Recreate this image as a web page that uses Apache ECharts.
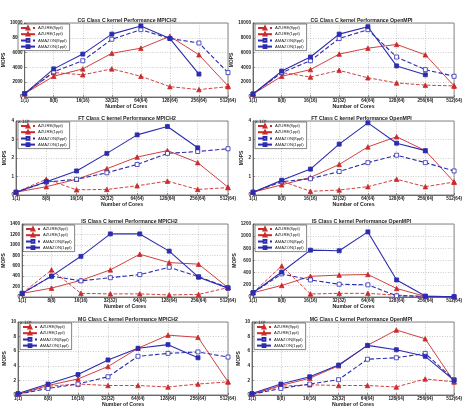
<!DOCTYPE html>
<html>
<head>
<meta charset="utf-8">
<script src="https://cdn.jsdelivr.net/npm/echarts@6/dist/echarts.min.js"></script>
<style>
  html, body { margin: 0; padding: 0; background: #fff; }
  #main { width: 465px; height: 415px; }
</style>
</head>
<body>
<div id="main"></div>
<script>
// x 轴分类
var categories = ['1(1)', '8(8)', '16(16)', '32(32)', '64(64)', '128(64)', '256(64)', '512(64)'];
var seriesNames = ['AZURE(8ppl)', 'AZURE(1ppl)', 'AMAZON(8ppl)', 'AMAZON(1ppl)'];

// CG MPICH2
var cgMpichAzure8 = [450, 3300, 3000, 3800, 2800, 1400, 1000, 1400];
var cgMpichAzure1 = [450, 2800, 3800, 5900, 6600, 8200, 5700, 1500];
var cgMpichAmazon8 = [450, 3400, 4900, 7800, 9100, 7900, 7300, 3300];
var cgMpichAmazon1 = [450, 3800, 5800, 8500, 9600, 7900, 3100, null];
// CG OpenMPI
var cgOmpiAzure8 = [400, 3300, 2700, 3600, 2600, 1900, 1600, 1500];
var cgOmpiAzure1 = [400, 2800, 3700, 5800, 6600, 7100, 5700, 1500];
var cgOmpiAmazon8 = [400, 3300, 4900, 7900, 9100, 5400, 3700, 2800];
var cgOmpiAmazon1 = [400, 3500, 5400, 8500, 9500, 4200, 3000, null];
// FT MPICH2
var ftMpichAzure8 = [1500, 8500, 2800, 3000, 5000, 7500, 3000, 4000];
var ftMpichAzure1 = [1500, 4500, 8500, 14200, 20500, 24000, 17500, 4200];
var ftMpichAmazon8 = [1500, 7000, 8500, 12000, 16500, 22500, 23500, 25000];
var ftMpichAmazon1 = [1500, 7200, 13000, 22500, 32500, 37000, 25500, null];
// FT OpenMPI
var ftOmpiAzure8 = [1500, 7500, 2000, 2700, 4500, 8500, 4500, 7000];
var ftOmpiAzure1 = [1500, 5500, 9500, 16500, 26000, 31500, 24000, 7000];
var ftOmpiAmazon8 = [1500, 7200, 8800, 12700, 17500, 21500, 17500, 13000];
var ftOmpiAmazon1 = [1500, 8000, 14000, 27500, 39000, 28000, 24000, null];
// IS MPICH2
var isMpichAzure8 = [70, 520, 70, 60, 60, 40, 50, 180];
var isMpichAzure1 = [70, 170, 320, 520, 820, 660, 630, 180];
var isMpichAmazon8 = [70, 400, 310, 370, 430, 570, 390, 180];
var isMpichAmazon1 = [70, 400, 780, 1210, 1210, 880, 380, 170];
// IS OpenMPI
var isOmpiAzure8 = [70, 510, 50, 60, 60, 30, 10, 5];
var isOmpiAzure1 = [70, 190, 340, 360, 370, 140, 10, 5];
var isOmpiAmazon8 = [70, 380, 280, 210, 200, 20, 10, 5];
var isOmpiAmazon1 = [70, 410, 770, 760, 1070, 280, 15, 5];
// MG MPICH2
var mgMpichAzure8 = [1000, 12000, 15000, 13000, 13000, 11000, 15000, 18000];
var mgMpichAzure1 = [1000, 13000, 22000, 39000, 64000, 82000, 79000, 18000];
var mgMpichAmazon8 = [1000, 9000, 15000, 25000, 53000, 57000, 59000, 52000];
var mgMpichAmazon1 = [2000, 15000, 28000, 48000, 64000, 69000, 51000, null];
// MG OpenMPI
var mgOmpiAzure8 = [1000, 12000, 14000, 13000, 13000, 11000, 22000, 18000];
var mgOmpiAzure1 = [1000, 13000, 23000, 40000, 68000, 89000, 77000, 18000];
var mgOmpiAmazon8 = [1000, 9000, 15000, 21000, 49000, 51000, 57000, 21000];
var mgOmpiAmazon1 = [2000, 15000, 25000, 41000, 68000, 62000, 53000, 20000];

var titles = [
    'CG Class C kernel Performance MPICH2', 'CG Class C kernel Performance OpenMPI',
    'FT Class C kernel Performance MPICH2', 'FT Class C kernel Performance OpenMPI',
    'IS Class C kernel Performance MPICH2', 'IS Class C kernel Performance OpenMPI',
    'MG Class C kernel Performance MPICH2', 'MG Class C kernel Performance OpenMPI'
];
var yMax = [10000, 10000, 40000, 40000, 1400, 1200, 100000, 100000];
var yStep = [2000, 2000, 10000, 10000, 200, 200, 20000, 20000];
var yScale = [1, 1, 10000, 10000, 1, 1, 10000, 10000];

var panelData = [
    [cgMpichAzure8, cgMpichAzure1, cgMpichAmazon8, cgMpichAmazon1],
    [cgOmpiAzure8, cgOmpiAzure1, cgOmpiAmazon8, cgOmpiAmazon1],
    [ftMpichAzure8, ftMpichAzure1, ftMpichAmazon8, ftMpichAmazon1],
    [ftOmpiAzure8, ftOmpiAzure1, ftOmpiAmazon8, ftOmpiAmazon1],
    [isMpichAzure8, isMpichAzure1, isMpichAmazon8, isMpichAmazon1],
    [isOmpiAzure8, isOmpiAzure1, isOmpiAmazon8, isOmpiAmazon1],
    [mgMpichAzure8, mgMpichAzure1, mgMpichAmazon8, mgMpichAmazon1],
    [mgOmpiAzure8, mgOmpiAzure1, mgOmpiAmazon8, mgOmpiAmazon1]
];

// 各子图位置 (left, top, right, bottom)
var boxes = [
    [16, 23, 228, 97], [253, 23, 460, 97],
    [16, 121, 228, 195], [253, 121, 460, 195],
    [21, 224, 228, 297], [253, 224, 460, 297],
    [18, 322, 228, 395], [252, 322, 460, 395]
];
var nameGaps = [12, 15, 6, 9, 16, 9, 6, 6];

var RED = '#cc2b2b', BLUE = '#2c2cb0';
var styles = [
    {color: RED, type: 'dashed', symbol: 'triangle', fill: RED, width: 0.9, size: 4.5},
    {color: RED, type: 'solid', symbol: 'triangle', fill: RED, width: 0.9, size: 4.5},
    {color: BLUE, type: 'dashed', symbol: 'rect', fill: '#fff', width: 1.1, size: 4},
    {color: BLUE, type: 'solid', symbol: 'rect', fill: BLUE, width: 1.1, size: 4}
];

var FONT = 'Liberation Sans';
var grid = [], xAxis = [], yAxis = [], series = [], title = [], legend = [];

for (var i = 0; i < 8; i++) {
    var b = boxes[i];
    grid.push({left: b[0], top: b[1], width: b[2] - b[0], height: b[3] - b[1],
        show: true, borderColor: '#666', borderWidth: 0.8, backgroundColor: '#fff'});
    title.push({text: titles[i], left: (b[0] + b[2]) / 2, top: b[1] - 10, textAlign: 'center',
        textStyle: {fontSize: 5.2, fontWeight: 'bold', color: '#222', fontFamily: FONT}});
    if (yScale[i] > 1) {
        title.push({text: 'x 10⁴', left: b[0] - 3, top: b[1] - 7,
            textStyle: {fontSize: 4.5, fontWeight: 'normal', color: '#222', fontFamily: 'DejaVu Sans'}});
    }
    xAxis.push({type: 'category', gridIndex: i, data: categories, boundaryGap: false,
        axisLine: {lineStyle: {color: '#555', width: 0.8}},
        axisTick: {inside: true, length: 2, lineStyle: {color: '#555', width: 0.6}},
        axisLabel: {interval: 0, fontSize: 4.6, margin: 1.5, color: '#222', fontFamily: FONT, fontWeight: 'bold'},
        splitLine: {show: true, lineStyle: {type: [1, 1.5], color: '#aaa', width: 0.6}},
        name: 'Number of Cores', nameLocation: 'middle', nameGap: 6.5,
        nameTextStyle: {fontSize: 5.2, fontWeight: 'bold', color: '#222', fontFamily: FONT}});
    (function (sc) {
        yAxis.push({type: 'value', gridIndex: i, min: 0, max: yMax[i], interval: yStep[i],
            axisLine: {show: true, lineStyle: {color: '#555', width: 0.8}},
            axisTick: {show: true, inside: true, length: 2, lineStyle: {color: '#555', width: 0.6}},
            axisLabel: {fontSize: 4.6, margin: 2, color: '#222', fontFamily: FONT, fontWeight: 'bold',
                formatter: function (v) { return String(v / sc); }},
            splitLine: {show: true, lineStyle: {type: [1, 1.5], color: '#aaa', width: 0.6}},
            name: 'MOPS', nameLocation: 'middle', nameGap: nameGaps[i],
            nameTextStyle: {fontSize: 5, fontWeight: 'bold', color: '#222', fontFamily: FONT}});
    })(yScale[i]);
    for (var s = 0; s < 4; s++) {
        var st = styles[s];
        series.push({name: seriesNames[s], type: 'line', xAxisIndex: i, yAxisIndex: i,
            data: panelData[i][s], symbol: st.symbol, symbolSize: st.size, showAllSymbol: true,
            connectNulls: false, animation: false, z: 2 + s,
            lineStyle: {color: st.color, type: st.type, width: st.width},
            itemStyle: {color: st.fill, borderColor: st.color, borderWidth: 0.8}});
    }
    legend.push({data: seriesNames, orient: 'vertical', left: b[0] + 2, top: b[1] + 1,
        itemWidth: 14, itemHeight: 3.5, itemGap: 1.2, padding: [1.5, 3, 1.5, 2],
        backgroundColor: '#fff', borderColor: '#333', borderWidth: 0.6,
        textStyle: {fontSize: 4.2, lineHeight: 5, color: '#222', fontFamily: FONT, padding: [0, 0, 0, -2]}});
}

var myChart = echarts.init(document.getElementById('main'));
myChart.setOption({
    backgroundColor: '#fff',
    animation: false,
    title: title,
    legend: legend,
    grid: grid,
    xAxis: xAxis,
    yAxis: yAxis,
    series: series
});
</script>
</body>
</html>
